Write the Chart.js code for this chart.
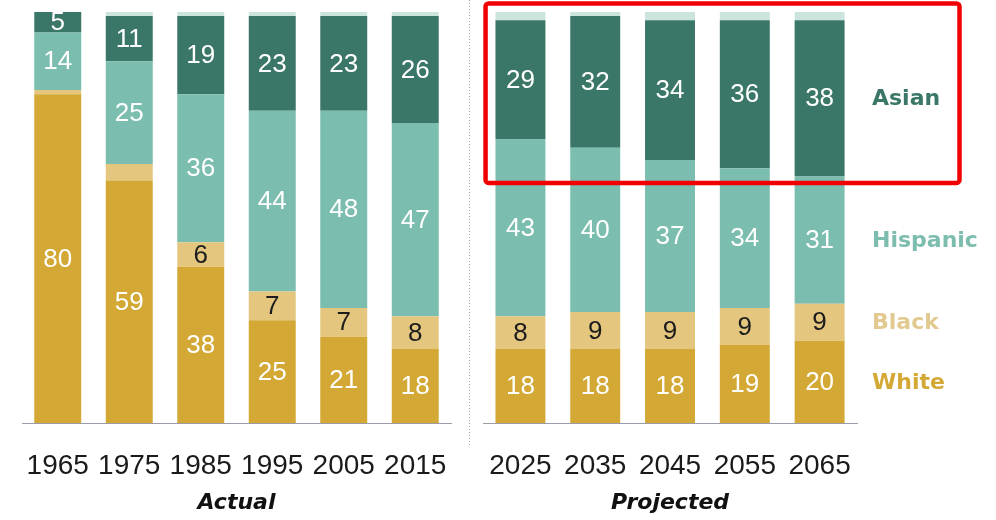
<!DOCTYPE html>
<html>
<head>
<meta charset="utf-8">
<script src="https://cdn.jsdelivr.net/npm/chart.js@4/dist/chart.umd.min.js"></script>
<style>
  html, body { margin: 0; padding: 0; background: #fff; }
  #wrap { position: relative; width: 996px; height: 520px; overflow: hidden; }
  #wrap canvas { position: absolute; top: 0; }
  #actual { left: 0; }
  #projected { left: 470px; }
</style>
</head>
<body>
<div id="wrap">
  <canvas id="actual" width="470" height="520"></canvas>
  <canvas id="projected" width="526" height="520"></canvas>
</div>
<script>
// Share of immigrants by race/ethnicity, percent
const yearsActual = ['1965', '1975', '1985', '1995', '2005', '2015'];
const whiteActual = [80, 59, 38, 25, 21, 18];
const blackActual = [1, 4, 6, 7, 7, 8];
const hispanicActual = [14, 25, 36, 44, 48, 47];
const asianActual = [5, 11, 19, 23, 23, 26];
const otherActual = [0, 1, 1, 1, 1, 1];

const yearsProjected = ['2025', '2035', '2045', '2055', '2065'];
const whiteProjected = [18, 18, 18, 19, 20];
const blackProjected = [8, 9, 9, 9, 9];
const hispanicProjected = [43, 40, 37, 34, 31];
const asianProjected = [29, 32, 34, 36, 38];
const otherProjected = [2, 1, 2, 2, 2];

const groupTitles = ['Actual', 'Projected'];
const seriesNames = ['White', 'Black', 'Hispanic', 'Asian', 'Other'];

const COLORS = {
  White: '#D3A834',
  Black: '#E4C67F',
  Hispanic: '#7BBDAE',
  Asian: '#3B7768',
  Other: '#CBE4DD'
};
const LEGEND_TEXT = {
  White: '#D3A834',
  Black: '#E2C98F',
  Hispanic: '#7DBDAF',
  Asian: '#3B7768'
};
const LABEL_TEXT = {
  White: '#ffffff',
  Black: '#1c1c1c',
  Hispanic: '#ffffff',
  Asian: '#ffffff'
};
const MIN_LABEL = 5;
const SANS = '"Liberation Sans", Arial, sans-serif';
const HEAVY = '"DejaVu Sans", "Liberation Sans", sans-serif';

// Values written in the middle of each segment
const valueLabels = {
  id: 'valueLabels',
  afterDatasetsDraw(chart) {
    const ctx = chart.ctx;
    ctx.save();
    ctx.font = '26px ' + SANS;
    ctx.textAlign = 'center';
    ctx.textBaseline = 'middle';
    chart.data.datasets.forEach((ds, i) => {
      const color = LABEL_TEXT[ds.label];
      if (!color) return;
      chart.getDatasetMeta(i).data.forEach((bar, j) => {
        const v = ds.data[j];
        if (v < MIN_LABEL) return;
        ctx.fillStyle = color;
        ctx.fillText(String(v), bar.x, (bar.y + bar.base) / 2 + 1);
      });
    });
    ctx.restore();
  }
};

// Dotted divider between the actual and projected panels
const divider = {
  id: 'divider',
  afterDraw(chart) {
    const ctx = chart.ctx;
    ctx.save();
    ctx.strokeStyle = '#a8a8a8';
    ctx.lineWidth = 1;
    ctx.setLineDash([1, 2]);
    ctx.beginPath();
    ctx.moveTo(chart.width - 0.5, 0);
    ctx.lineTo(chart.width - 0.5, chart.chartArea.bottom + 24);
    ctx.stroke();
    ctx.restore();
  }
};

// Series names beside the last bar, plus the highlight around the Asian series
const sideLegend = {
  id: 'sideLegend',
  afterDraw(chart) {
    const ctx = chart.ctx;
    const area = chart.chartArea;
    ctx.save();
    ctx.font = 'bold 22px ' + HEAVY;
    ctx.textAlign = 'left';
    ctx.textBaseline = 'middle';
    chart.data.datasets.forEach((ds, i) => {
      const color = LEGEND_TEXT[ds.label];
      if (!color) return;
      const bars = chart.getDatasetMeta(i).data;
      const bar = bars[bars.length - 1];
      ctx.fillStyle = color;
      ctx.fillText(ds.label, area.right + 15, (bar.y + bar.base) / 2 + 1);
    });

    const asianIdx = chart.data.datasets.findIndex(d => d.label === 'Asian');
    const asianBars = chart.getDatasetMeta(asianIdx).data;
    const lowest = Math.max(...asianBars.map(b => b.base));
    ctx.strokeStyle = '#F00000';
    ctx.lineWidth = 4.5;
    ctx.beginPath();
    ctx.roundRect(area.left + 2.5, 3.5, area.right + 100 - area.left, lowest + 6.5 - 3.5, 3);
    ctx.stroke();
    ctx.restore();
  }
};

function buildChart(id, labels, series, title, barPct, padding, extraPlugins) {
  const datasets = seriesNames.map((name, k) => ({
    label: name,
    data: series[k],
    backgroundColor: COLORS[name],
    borderWidth: 0,
    barPercentage: barPct,
    categoryPercentage: 1
  }));
  return new Chart(document.getElementById(id), {
    type: 'bar',
    data: { labels, datasets },
    options: {
      responsive: false,
      animation: false,
      events: [],
      layout: { padding },
      plugins: { legend: { display: false }, tooltip: { enabled: false } },
      scales: {
        x: {
          stacked: true,
          grid: { display: false },
          border: { display: true, color: '#9c9ca8', width: 1 },
          ticks: {
            color: '#1a1a1a',
            font: { family: SANS, size: 28 },
            padding: 18,
            maxRotation: 0,
            autoSkip: false
          },
          title: {
            display: true,
            text: title,
            color: '#111',
            font: { family: HEAVY, size: 22, weight: 'bold', style: 'italic' },
            padding: { top: 0, bottom: 4 }
          },
          afterFit: (scale) => { scale.height = 97; }
        },
        y: {
          stacked: true,
          display: false,
          min: 0,
          max: 100
        }
      }
    },
    plugins: [valueLabels].concat(extraPlugins)
  });
}

buildChart('actual', yearsActual,
  [whiteActual, blackActual, hispanicActual, asianActual, otherActual],
  groupTitles[0], 0.657, { left: 22, right: 19, top: 12, bottom: 0 }, [divider]);

buildChart('projected', yearsProjected,
  [whiteProjected, blackProjected, hispanicProjected, asianProjected, otherProjected],
  groupTitles[1], 0.668, { left: 13, right: 139, top: 12, bottom: 0 }, [sideLegend]);
</script>
</body>
</html>
